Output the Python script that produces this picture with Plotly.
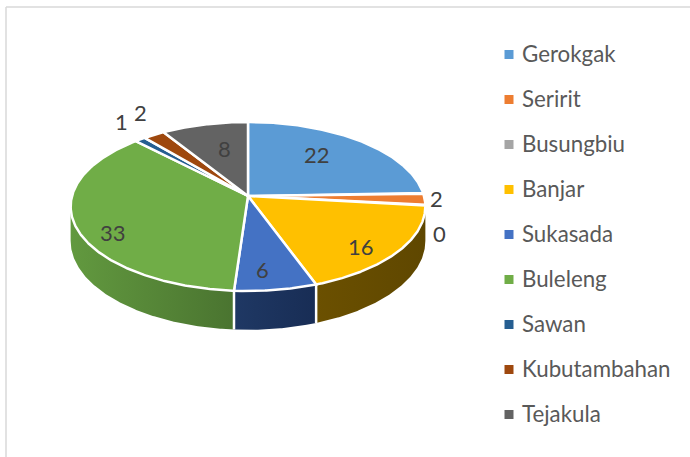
import numpy as np
import plotly.graph_objects as go

# --- data ---
categories = ["Gerokgak", "Seririt", "Busungbiu", "Banjar", "Sukasada",
              "Buleleng", "Sawan", "Kubutambahan", "Tejakula"]
values = [22, 2, 0, 16, 6, 33, 1, 2, 8]

# --- style ---
colors = ["#5B9BD5", "#ED7D31", "#A5A5A5", "#FFC000", "#4472C4",
          "#70AD47", "#255E91", "#9E480E", "#636363"]
wall_scales = {
    3: ["#6B5000", "#5F4700"],
    4: ["#1F3864", "#182D55"],
    5: ["#62993F", "#4A7430"],
}
label_shift = [(-43, 13), (12, 0), (14, 29), (-37, -5), (-13, -20),
               (38, 7), (-19, -18), (-13, -22), (20, 24)]

# --- projection of the tilted disc onto the page ---
W, H = 690, 457
CX, CY, RX, RY, PERSP, DEPTH = 248, 196, 176, 83.2, 0.124, 34


def project(deg, r=1.0, drop=0.0):
    t = np.radians(deg)
    u, v = r * np.sin(t), r * np.cos(t)
    s = 1 / (1 + PERSP * v)
    return CX + RX * u * s, CY - RY * v * s + drop * s


def arc(a, b, drop=0.0):
    n = max(2, int(abs(b - a)) * 2 + 2)
    return project(np.linspace(a, b, n), drop=drop)


total = sum(values)
edges = np.concatenate([[0], np.cumsum(values)]) * 360 / total
VIS_A, VIS_B = 97, 263

fig = go.Figure()

# side walls
for i, scale in wall_scales.items():
    a, b = max(edges[i], VIS_A), min(edges[i + 1], VIS_B)
    xt, yt = arc(a, b)
    xb, yb = arc(b, a, drop=DEPTH)
    cs = [[0, scale[0]], [1, scale[1]]]
    fig.add_trace(go.Scatter(
        x=np.r_[xt, xb], y=np.r_[yt, yb], mode="lines", fill="toself",
        line=dict(width=0, color="rgba(0,0,0,0)"),
        fillgradient=dict(type="horizontal", colorscale=cs),
        hoverinfo="skip", showlegend=False))
for i in (3, 4):
    xe, ye = project(edges[i + 1])
    _, ye2 = project(edges[i + 1], drop=DEPTH)
    fig.add_trace(go.Scatter(x=[xe, xe], y=[ye, ye2], mode="lines",
                             line=dict(color="white", width=2.5),
                             hoverinfo="skip", showlegend=False))

# top face
for i, val in enumerate(values):
    if val == 0:
        continue
    xa, ya = arc(edges[i], edges[i + 1])
    fig.add_trace(go.Scatter(
        x=np.r_[CX, xa, CX], y=np.r_[CY, ya, CY], mode="lines", fill="toself",
        fillcolor=colors[i], line=dict(color="white", width=2.5),
        name=categories[i], hoverinfo="name", showlegend=False))

# data labels
for i, val in enumerate(values):
    x0, y0 = project((edges[i] + edges[i + 1]) / 2)
    dx, dy = label_shift[i]
    fig.add_annotation(x=float(x0), y=float(y0), text=str(val), showarrow=False,
                       xshift=dx, yshift=-dy,
                       font=dict(family="Lato", size=22, color="#404040"))

# legend
leg_y = [54.5 + 45 * i for i in range(len(categories))]
fig.add_trace(go.Scatter(
    x=[509] * len(categories), y=leg_y, mode="markers",
    marker=dict(symbol="square", size=9, color=colors),
    hoverinfo="skip", showlegend=False))
fig.add_trace(go.Scatter(
    x=[522] * len(categories), y=[v + 2 for v in leg_y], mode="text", text=categories,
    textposition="middle right",
    textfont=dict(family="Lato", size=22.3, color="#595959"),
    hoverinfo="skip", showlegend=False))

fig.update_layout(
    width=W, height=H, margin=dict(l=0, r=0, t=0, b=0),
    paper_bgcolor="white", plot_bgcolor="white",
    xaxis=dict(range=[0, W], visible=False, fixedrange=True),
    yaxis=dict(range=[H, 0], visible=False, fixedrange=True),
    shapes=[
        dict(type="line", x0=6, x1=W, y0=7, y1=7, line=dict(color="#D9D9D9", width=1.5)),
        dict(type="line", x0=6, x1=6, y0=7, y1=H, line=dict(color="#D9D9D9", width=1.5)),
    ],
)
fig.write_html("out.html", config={"displayModeBar": False},
               post_script="document.body.style.margin='0';document.body.style.overflow='hidden';")
